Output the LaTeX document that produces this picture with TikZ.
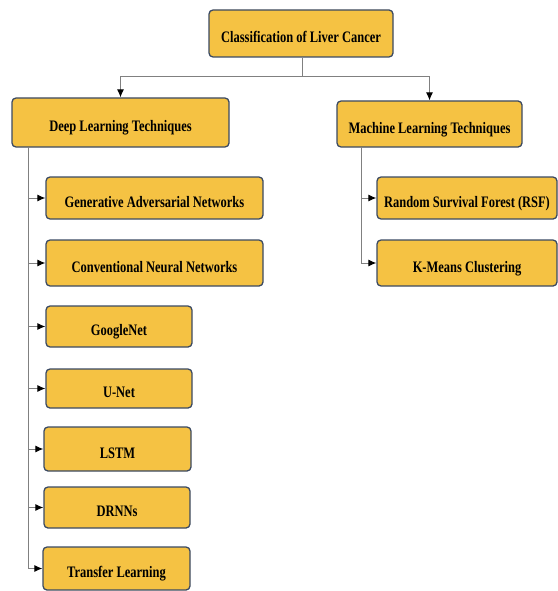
\documentclass[tikz,border=0pt]{standalone}
\usepackage{fontspec}
\setmainfont[FakeStretch=0.78]{Liberation Serif}
\usetikzlibrary{arrows.meta}
\definecolor{boxfill}{HTML}{F5C243}
\definecolor{boxline}{HTML}{3B4A63}
\definecolor{connline}{HTML}{808080}
\begin{document}
\begin{tikzpicture}[x=1pt,y=-1pt,
  cbox/.style={draw=boxline,line width=1.3pt,fill=boxfill,rounded corners=4pt,
    rectangle,inner sep=0pt,text height=18pt,text depth=0pt,
    font=\fontsize{16}{18}\selectfont\bfseries},
  conn/.style={draw=connline,line width=1pt},
  arr/.style={conn,-{Latex[black,length=8pt,width=7pt]}}]
\useasboundingbox (0,0) rectangle (557,591);
\node[cbox,minimum width=184pt,minimum height=47pt] (top) at (301,33.5) {Classification of Liver Cancer};
\node[cbox,minimum width=217pt,minimum height=49pt] (deep) at (120.5,122.5) {Deep Learning Techniques};
\node[cbox,minimum width=185pt,minimum height=46pt] (ml) at (429.5,124) {Machine Learning Techniques};
\node[cbox,minimum width=217pt,minimum height=42pt] (gan) at (154.5,198) {Generative Adversarial Networks};
\node[cbox,minimum width=217pt,minimum height=46pt] (cnn) at (154.5,263) {Conventional Neural Networks};
\node[cbox,minimum width=146pt,minimum height=41pt] (google) at (119,326.5) {GoogleNet};
\node[cbox,minimum width=146pt,minimum height=39pt] (unet) at (119,388.5) {U-Net};
\node[cbox,minimum width=147pt,minimum height=44pt] (lstm) at (117.5,449) {LSTM};
\node[cbox,minimum width=146pt,minimum height=41pt] (drnn) at (117,507.5) {DRNNs};
\node[cbox,minimum width=147pt,minimum height=43pt] (tl) at (116.5,568.5) {Transfer Learning};
\node[cbox,minimum width=180pt,minimum height=42pt] (rsf) at (467,198) {Random Survival Forest (RSF)};
\node[cbox,minimum width=180pt,minimum height=46pt] (km) at (467,263) {K-Means Clustering};
\coordinate (j) at (302,77);
\coordinate (lt) at (28,147);
\coordinate (rt) at (361,147);
\draw[conn] (top.south -| j) -- (j);
\draw[arr] (j) -| (deep.north);
\draw[arr] (j) -| (ml.north);
\foreach \c in {gan,cnn,google,unet,lstm,drnn,tl} {\draw[arr] (lt) |- (\c.west);}
\foreach \c in {rsf,km} {\draw[arr] (rt) |- (\c.west);}
\end{tikzpicture}
\end{document}
